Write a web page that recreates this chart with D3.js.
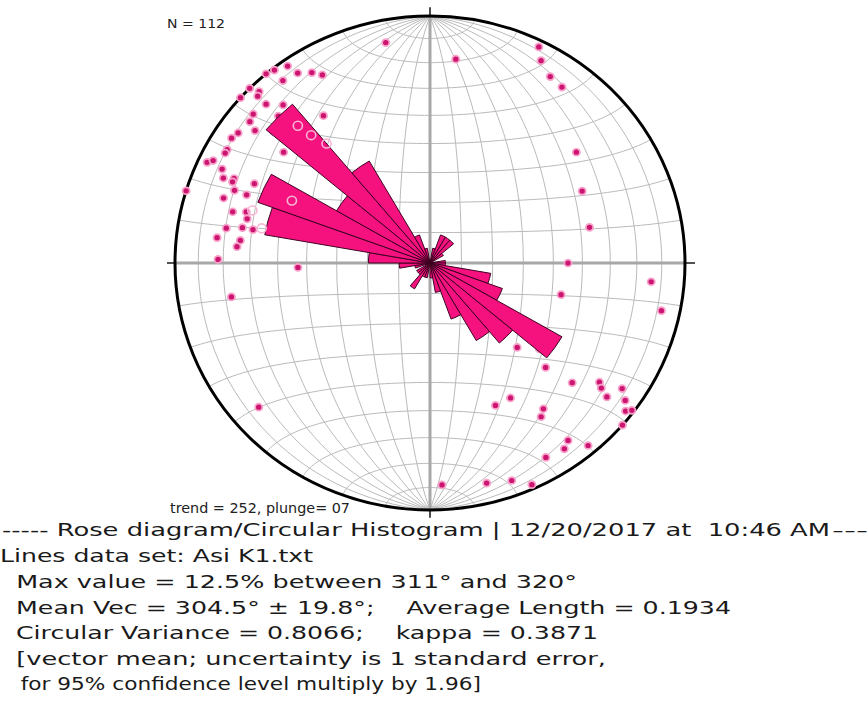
<!DOCTYPE html>
<html>
<head>
<meta charset="utf-8">
<script src="https://cdn.jsdelivr.net/npm/d3@7"></script>
<style>
  body { margin: 0; background: #fff; }
  svg { display: block; }
  text { font-family: "DejaVu Sans", sans-serif; white-space: pre; }
</style>
</head>
<body>
<svg width="867" height="704"></svg>
<script>
// rose: percent of lines in each 10 degree bin, starting at 0-10
const binPercent = [
  0, 0.9, 1.8, 1.8, 1.8, 0.9, 0, 0, 0.9, 0.9,
  3.6, 4.5, 8.9, 6.3, 5.4, 3.6, 1.8, 0.9, 0, 0.9,
  0.9, 1.8, 0.9, 0.9, 0, 0.9, 1.8, 3.6, 9.8, 10.7,
  6.3, 12.5, 7.1, 1.8, 0.9, 0
];

// lines plotted on the net (trend, plunge in degrees)
const trends = [349, 325, 326, 329, 331, 320, 322, 322, 315, 316, 312, 315, 315, 311, 318, 325, 309, 315, 305, 308,
  311, 7, 26, 28, 32, 36, 303, 300, 299, 295, 296, 295, 294, 293, 308, 293, 291, 287, 295, 288,
  291, 285, 286, 284, 280, 281, 281, 277, 277, 275, 271, 268, 260, 229, 177, 131, 126, 127, 124, 128,
  126, 128, 127, 131, 156, 150, 143, 145, 143, 145, 140, 150, 166, 160, 156, 52, 64, 77, 90, 95,
  104, 102, 135, 129, 133];
const plunges = [10, 3, 8, 11, 14, 0, 1, 7, 0, 4, 0, 5, 10, 9, 15, 28, 10, 17, 9, 14,
  20, 18, 3, 8, 12, 13, 8, 9, 9, 4, 6, 11, 17, 13, 28, 17, 19, 0, 25, 16,
  24, 21, 26, 27, 20, 26, 30, 17, 26, 25, 18, 47, 22, 12, 11, 27, 19, 17, 10, 13,
  6, 3, 1, 0, 37, 37, 27, 25, 11, 9, 4, 10, 9, 7, 2, 28, 34, 36, 45, 14,
  46, 8, 50, 44, 38];
// lines hidden under the petals, shown as open circles
const openTrends = [317, 318, 320, 295, 287, 282];
const openPlunges = [25, 31, 37, 40, 28, 33];

const infoLines = [
  '----- Rose diagram/Circular Histogram | 12/20/2017 at  10:46 AM',
  'Lines data set: Asi K1.txt',
  '  Max value = 12.5% between 311\u00b0 and 320\u00b0',
  '  Mean Vec = 304.5\u00b0 \u00b1 19.8\u00b0;    Average Length = 0.1934',
  '  Circular Variance = 0.8066;    kappa = 0.3871',
  '  [vector mean; uncertainty is 1 standard error,',
  '   for 95% confidence level multiply by 1.96]'
];

const svg = d3.select('svg');
const R = 255;
const cx = 430, cy = 263;
const squash = 247 / 255;

const net = svg.append('g')
  .attr('transform', `translate(${cx},${cy}) scale(1,${squash})`);

// equal-area (Schmidt) net grid
const proj = d3.geoAzimuthalEqualArea()
  .rotate([0, 0])
  .clipAngle(90)
  .scale(R / Math.SQRT2)
  .translate([0, 0])
  .precision(0.1);
const path = d3.geoPath(proj);
const graticule = d3.geoGraticule()
  .extentMajor([[-180, -90], [180, 90]])
  .extentMinor([[-180, -90], [180, 90]])
  .step([10, 10]);

net.append('path')
  .datum(graticule())
  .attr('d', path)
  .attr('fill', 'none')
  .attr('stroke', '#b9b9b9')
  .attr('stroke-width', 1);

// main axes
net.append('line').attr('x1', 0).attr('x2', 0).attr('y1', -R).attr('y2', R)
  .attr('stroke', '#a8a8a8').attr('stroke-width', 3);
net.append('line').attr('x1', -R).attr('x2', R).attr('y1', 0).attr('y2', 0)
  .attr('stroke', '#a8a8a8').attr('stroke-width', 3);

// ticks outside primitive
const ticks = [[0, -R - 9, 0, -R], [0, R, 0, R + 8], [-R - 8, 0, -R, 0], [R, 0, R + 10, 0]];
net.selectAll('.tick').data(ticks).enter().append('line')
  .attr('x1', d => d[0]).attr('y1', d => d[1])
  .attr('x2', d => d[2]).attr('y2', d => d[3])
  .attr('stroke', '#111').attr('stroke-width', 1.5);

net.append('circle')
  .attr('r', R)
  .attr('fill', 'none')
  .attr('stroke', '#000')
  .attr('stroke-width', 3);

// radial distance of a line: equal area, r = R * sqrt(1 - sin(plunge))
const rad = d3.scaleSqrt().domain([0, 1]).range([0, R]);
const toRad = Math.PI / 180;
const px = (t, p) => rad(1 - Math.sin(p * toRad)) * Math.sin(t * toRad);
const py = (t, p) => -rad(1 - Math.sin(p * toRad)) * Math.cos(t * toRad);

net.selectAll('.pt').data(d3.range(trends.length)).enter().append('circle')
  .attr('class', 'pt')
  .attr('cx', i => px(trends[i], plunges[i]))
  .attr('cy', i => py(trends[i], plunges[i]))
  .attr('r', 3.6)
  .attr('fill', '#cc1570')
  .attr('stroke', '#f7a3cb')
  .attr('stroke-width', 1.8);

// rose petals
const petalR = d3.scaleLinear().domain([0, 12.5]).range([0, 214]);
const arc = d3.arc().innerRadius(0);
net.selectAll('.petal').data(binPercent).enter().append('path')
  .attr('class', 'petal')
  .attr('d', (d, i) => arc({
    outerRadius: petalR(d),
    startAngle: i * 10 * toRad,
    endAngle: (i + 1) * 10 * toRad
  }))
  .attr('fill', '#f5127f')
  .attr('stroke', '#3a0020')
  .attr('stroke-width', 1);

net.selectAll('.open').data(d3.range(openTrends.length)).enter().append('circle')
  .attr('cx', i => px(openTrends[i], openPlunges[i]))
  .attr('cy', i => py(openTrends[i], openPlunges[i]))
  .attr('r', 4.6)
  .attr('fill', 'none')
  .attr('stroke', '#f8b6d6')
  .attr('stroke-width', 1.6);

// labels
svg.append('text').attr('x', 167).attr('y', 28)
  .attr('font-size', 13).attr('fill', '#222')
  .attr('textLength', 58).attr('lengthAdjust', 'spacingAndGlyphs')
  .text('N = 112');
svg.append('text').attr('x', 170).attr('y', 513)
  .attr('font-size', 13.5).attr('fill', '#222')
  .attr('textLength', 180).attr('lengthAdjust', 'spacingAndGlyphs')
  .text('trend = 252, plunge= 07');

// info block
const baselines = [536, 562, 588, 614, 639, 665, 690];
const lineEnds = [830, 313, 577, 731, 598, 606, 481];
const lineStarts = [2, 0, 0, 0, 0, 0, 0];
infoLines.forEach((s, i) => {
  svg.append('text')
    .attr('x', lineStarts[i]).attr('y', baselines[i])
    .attr('font-size', 18.5).attr('fill', '#1a1a1a')
    .attr('textLength', lineEnds[i] - lineStarts[i])
    .attr('lengthAdjust', 'spacingAndGlyphs')
    .text(s);
});
svg.append('text').attr('x', 832).attr('y', baselines[0])
  .attr('font-size', 18.5).attr('fill', '#1a1a1a')
  .attr('textLength', 60).attr('lengthAdjust', 'spacingAndGlyphs')
  .text('-----');
</script>
</body>
</html>
